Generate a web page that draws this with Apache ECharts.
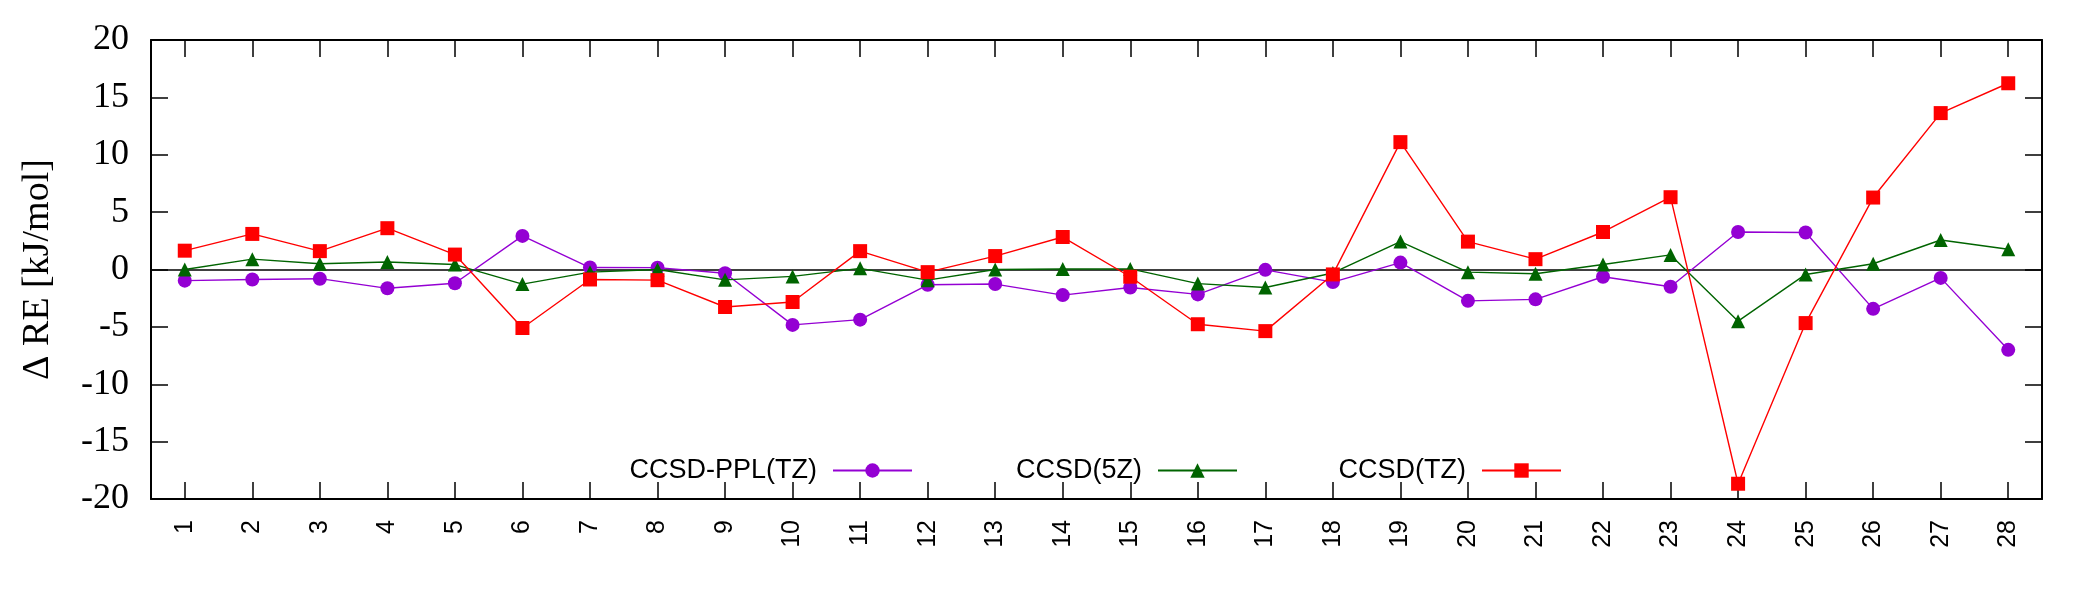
<!DOCTYPE html>
<html>
<head>
<meta charset="utf-8">
<title>Delta RE</title>
<script src="https://cdn.jsdelivr.net/npm/echarts@6/dist/echarts.min.js"></script>
<style>
  html, body { margin: 0; padding: 0; background: #fff; }
  #main { width: 2100px; height: 600px; }
</style>
</head>
<body>
<div id="main"></div>
<script>
// x categories 1..28
var categories = ['1','2','3','4','5','6','7','8','9','10','11','12','13','14',
                  '15','16','17','18','19','20','21','22','23','24','25','26','27','28'];

var seriesNames = ['CCSD-PPL(TZ)', 'CCSD(5Z)', 'CCSD(TZ)'];

// values (kJ/mol)
var pplTZ = [-0.97, -0.87, -0.8, -1.64, -1.2, 2.93, 0.17, 0.16, -0.33, -4.83,
             -4.37, -1.33, -1.27, -2.23, -1.57, -2.17, -0.03, -1.1, 0.6, -2.73,
             -2.6, -0.63, -1.5, 3.27, 3.23, -3.43, -0.73, -7.0];
var ccsd5Z = [0.0, 0.9, 0.5, 0.66, 0.43, -1.27, -0.23, 0.0, -0.9, -0.6,
              0.1, -0.93, 0.0, 0.05, 0.05, -1.23, -1.57, -0.3, 2.43, -0.23,
              -0.37, 0.43, 1.27, -4.5, -0.43, 0.5, 2.57, 1.77];
var ccsdTZ = [1.64, 3.1, 1.6, 3.6, 1.3, -5.1, -0.87, -0.93, -3.27, -2.83,
              1.6, -0.23, 1.17, 2.83, -0.63, -4.77, -5.37, -0.43, 11.1, 2.43,
              0.9, 3.27, 6.3, -18.67, -4.67, 6.27, 13.63, 16.23];

var yTicks = { min: -20, max: 20, step: 5 };

var colors = ['#9400d3', '#006400', '#ff0000'];
var symbols = ['circle', 'triangle', 'rect'];
var serifFont = 'Liberation Serif';
var sansFont = 'Liberation Sans';

var myChart = echarts.init(document.getElementById('main'));

function makeLine(i, data) {
    var s = {
        name: seriesNames[i],
        type: 'line',
        data: data,
        symbol: symbols[i],
        symbolSize: 14,
        showAllSymbol: true,
        lineStyle: { color: colors[i], width: 1.4 },
        itemStyle: { color: colors[i] },
        z: 3 + i,
        animation: false
    };
    return s;
}

var series = [makeLine(0, pplTZ), makeLine(1, ccsd5Z), makeLine(2, ccsdTZ)];
// zero line
series[0].markLine = {
    silent: true,
    symbol: 'none',
    label: { show: false },
    lineStyle: { color: '#000', width: 1.5, type: 'solid' },
    data: [{ yAxis: 0 }],
    z: 1
};

// one legend per entry, right edges of line samples fixed
var legendRights = [1182, 857, 533];
var legends = seriesNames.map(function (n, i) {
    return {
        data: [n],
        right: legendRights[i],
        top: 452,
        align: 'right',
        itemWidth: 79,
        itemHeight: 18,
        selectedMode: false,
        textStyle: { fontFamily: sansFont, fontSize: 27, color: '#000', padding: [0, 11, 0, 0] }
    };
});

var tickStyle = { color: '#000', width: 1.5 };

var option = {
    backgroundColor: '#fff',
    animation: false,
    legend: legends,
    grid: { left: 151, right: 58, top: 40, bottom: 101, containLabel: false },
    xAxis: [{
        type: 'category',
        data: categories,
        position: 'bottom',
        boundaryGap: true,
        axisLine: { show: true, onZero: false, lineStyle: { color: '#000', width: 2 } },
        axisTick: { show: true, inside: true, alignWithLabel: true, length: 17, lineStyle: tickStyle },
        axisLabel: { rotate: 90, margin: 21, fontFamily: sansFont, fontSize: 25, color: '#000' },
        splitLine: { show: false }
    }, {
        type: 'category',
        data: categories,
        position: 'top',
        boundaryGap: true,
        axisLine: { show: true, onZero: false, lineStyle: { color: '#000', width: 2 } },
        axisTick: { show: true, inside: true, alignWithLabel: true, length: 17, lineStyle: tickStyle },
        axisLabel: { show: false },
        splitLine: { show: false }
    }],
    yAxis: [{
        type: 'value',
        min: yTicks.min,
        max: yTicks.max,
        interval: yTicks.step,
        position: 'left',
        name: 'Δ RE [kJ/mol]',
        nameLocation: 'middle',
        nameRotate: 90,
        nameGap: 94,
        nameTextStyle: { fontFamily: serifFont, fontSize: 38, color: '#000' },
        axisLine: { show: true, lineStyle: { color: '#000', width: 2 } },
        axisTick: { show: true, inside: true, length: 17, lineStyle: tickStyle },
        axisLabel: { margin: 22, fontFamily: serifFont, fontSize: 36, color: '#000' },
        splitLine: { show: false }
    }, {
        type: 'value',
        min: yTicks.min,
        max: yTicks.max,
        interval: yTicks.step,
        position: 'right',
        axisLine: { show: true, lineStyle: { color: '#000', width: 2 } },
        axisTick: { show: true, inside: true, length: 17, lineStyle: tickStyle },
        axisLabel: { show: false },
        splitLine: { show: false }
    }],
    series: series
};

myChart.setOption(option);
</script>
</body>
</html>
